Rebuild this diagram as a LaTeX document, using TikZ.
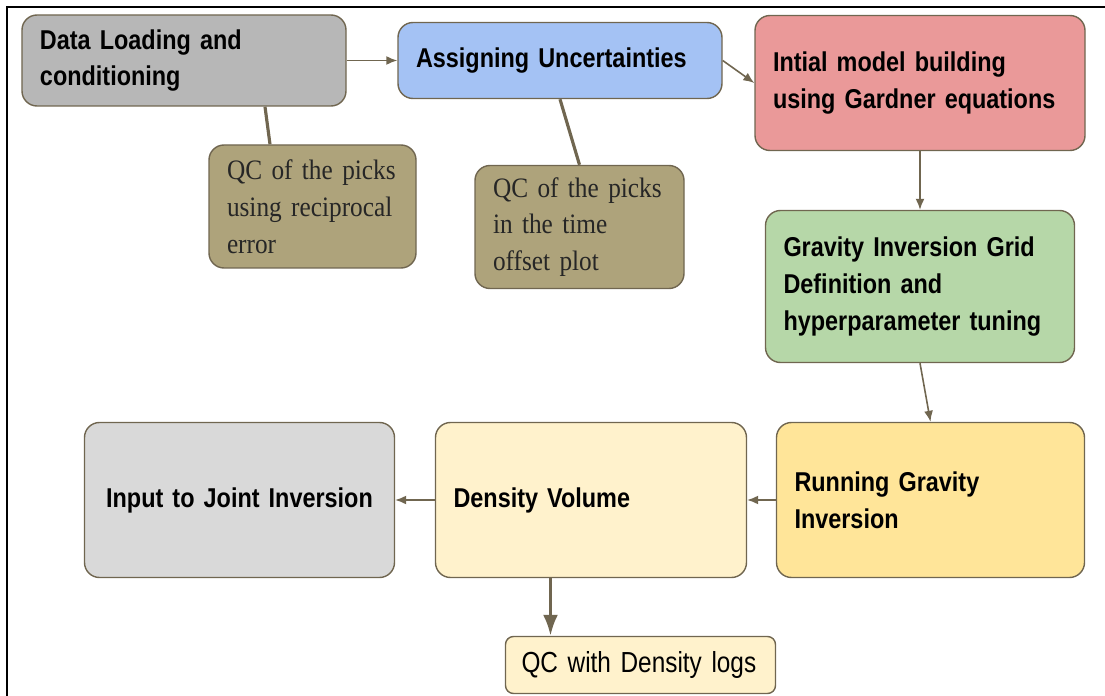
\documentclass[tikz,border=0pt]{standalone}
\usepackage{fontspec}
\setmainfont[FakeStretch=0.9,WordSpace=0.7]{Liberation Serif}
\newfontfamily\boxfont[FakeStretch=0.86]{Liberation Sans}
\newfontfamily\logfont[FakeStretch=0.84,WordSpace=0.8]{Liberation Sans}
\usepackage{tikz}
\usetikzlibrary{positioning}
\usetikzlibrary{arrows,arrows.meta}
\definecolor{edgebrown}{RGB}{112,102,80}
\definecolor{loadgray}{RGB}{183,183,183}
\definecolor{assignblue}{RGB}{164,194,244}
\definecolor{modelred}{RGB}{234,153,153}
\definecolor{gridgreen}{RGB}{182,215,168}
\definecolor{runyellow}{RGB}{255,229,153}
\definecolor{densyellow}{RGB}{255,242,204}
\definecolor{inputgray}{RGB}{217,217,217}
\definecolor{qcolive}{RGB}{174,163,123}
\tikzstyle{block} = [rectangle, draw=edgebrown, line width=0.8pt, rounded corners=0.3cm,
    align=left, inner xsep=0.36cm, text=black, font=\boxfont\bfseries\fontsize{15.5}{21}\selectfont]
\tikzstyle{qcblock} = [rectangle, draw=edgebrown, line width=0.8pt, fill=qcolive, rounded corners=0.3cm,
    align=left, inner xsep=0.36cm, minimum height=2.46cm, text=black!85, font=\fontsize{16}{21}\selectfont]
\tikzstyle{line} = [draw=edgebrown, line width=0.9pt, -{Latex[length=0.22cm,width=0.18cm]}]
\tikzstyle{link} = [draw=edgebrown, line width=1.8pt]

\begin{document}
\begin{tikzpicture}
    \useasboundingbox (0,0) rectangle (22.1,-13.92);
    % frame
    \draw[line width=1.1pt] (0.14,-13.92) -- (0.14,-0.14) -- (22.1,-0.14);

    % Place nodes
    \node [block, fill=loadgray, text width=5.76cm, minimum height=1.82cm] (load) at (3.68,-1.21) {Data Loading and\\conditioning};
    \node [block, fill=assignblue, text width=5.76cm, minimum height=1.52cm, right of=load, node distance=7.52cm] (assign) {Assigning Uncertainties};
    \node [block, fill=modelred, text width=5.88cm, minimum height=2.7cm, right of=assign, node distance=7.2cm, yshift=-0.45cm] (model) {Intial model building\\using Gardner equations};
    \node [block, fill=gridgreen, text width=5.46cm, minimum height=3.04cm, below of=model, node distance=4.07cm] (grid) {Gravity Inversion Grid\\Definition and\\hyperparameter tuning};
    \node [block, fill=runyellow, text width=5.44cm, minimum height=3.1cm, below of=grid, node distance=4.27cm, xshift=0.21cm] (run) {Running Gravity\\Inversion};
    \node [block, fill=densyellow, text width=5.5cm, minimum height=3.1cm, left of=run, node distance=6.79cm] (dens) {Density Volume};
    \node [block, fill=inputgray, text width=5.48cm, minimum height=3.1cm, align=center, left of=dens, node distance=7.03cm] (input) {Input to Joint Inversion};
    \node [block, fill=densyellow, text width=4.76cm, minimum height=1.14cm, inner xsep=0.32cm, rounded corners=0.16cm,
        font=\logfont\fontsize{16.5}{18}\selectfont, below of=dens, node distance=3.3cm, xshift=0.99cm] (qclogs) {QC with Density logs};

    \node [qcblock, text width=3.42cm, below of=load, node distance=2.92cm, xshift=2.57cm] (qcrecip) {QC of the picks\\using reciprocal\\error};
    \node [qcblock, text width=3.46cm, below of=assign, node distance=3.33cm, xshift=0.39cm] (qcoffset) {QC of the picks\\in the time\\offset plot};

    % Draw edges
    \path [line] (load) -- (assign);
    \path [line] (assign.east) -- (model.west);
    \path [line] (model) -- (grid);
    \path [line] (grid.south) -- (run.north);
    \path [line] (run) -- (dens);
    \path [line] (dens) -- (input);
    \path [draw=edgebrown, line width=1.8pt, -{Latex[length=0.42cm,width=0.3cm]}]
        ([xshift=-0.81cm]dens.south) -- ([xshift=-0.81cm]dens.south |- qclogs.north);

    \path [link] ([xshift=1.62cm]load.south) -- ([xshift=-0.85cm]qcrecip.north);
    \path [link] (assign.south) -- (qcoffset.north);

\end{tikzpicture}
\end{document}
